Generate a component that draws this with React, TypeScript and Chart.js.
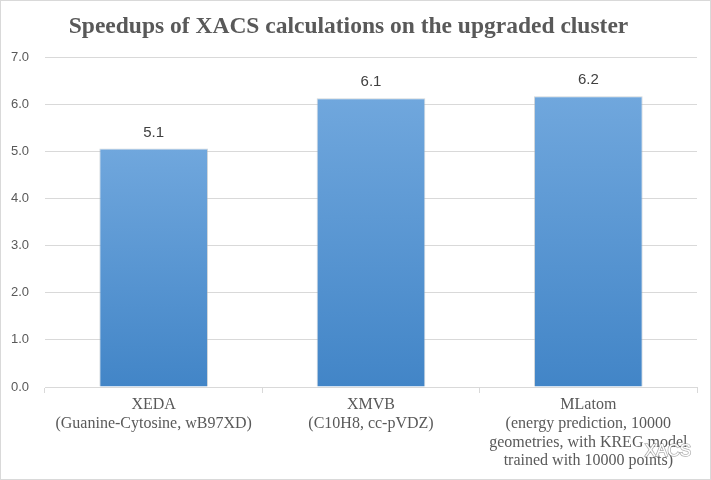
import React, { useEffect, useRef } from "react";
import { Chart, registerables } from "chart.js";

Chart.register(...registerables);

const titleText = "Speedups of XACS calculations on the upgraded cluster";
const categories: string[][] = [
  ["XEDA", "(Guanine-Cytosine, wB97XD)"],
  ["XMVB", "(C10H8, cc-pVDZ)"],
  ["MLatom", "(energy prediction, 10000", "geometries, with KREG model", "trained with 10000 points)"],
];
const speedups: number[] = [5.06, 6.13, 6.17];
const yMin = 0;
const yMax = 7;
const yStep = 1;

const frame = {
  id: "frame",
  beforeDraw(chart: any) {
    const { ctx, width, height } = chart;
    ctx.save();
    ctx.fillStyle = "#ffffff";
    ctx.fillRect(0, 0, width, height);
    ctx.strokeStyle = "#d9d9d9";
    ctx.lineWidth = 1;
    ctx.strokeRect(0.5, 0.5, width - 1, height - 1);
    ctx.restore();
  },
};

const valueLabels = {
  id: "valueLabels",
  afterDatasetsDraw(chart: any) {
    const { ctx } = chart;
    const meta = chart.getDatasetMeta(0);
    ctx.save();
    ctx.font = "15px 'Liberation Sans', Arial, sans-serif";
    ctx.fillStyle = "#404040";
    ctx.textAlign = "center";
    ctx.textBaseline = "middle";
    meta.data.forEach((el: any, i: number) => {
      ctx.fillText(speedups[i].toFixed(1), el.x, el.y - 16);
    });
    ctx.restore();
  },
  afterDraw(chart: any) {
    const { ctx, width, height } = chart;
    ctx.save();
    ctx.font = "17px 'Liberation Sans', Arial, sans-serif";
    ctx.textAlign = "right";
    ctx.textBaseline = "middle";
    ctx.lineWidth = 1.5;
    ctx.strokeStyle = "rgba(120,120,120,0.6)";
    ctx.strokeText("XACS", width - 20, height - 29);
    ctx.fillStyle = "#ffffff";
    ctx.fillText("XACS", width - 20, height - 29);
    ctx.restore();
  },
};

export default function App() {
  const ref = useRef<HTMLCanvasElement | null>(null);

  useEffect(() => {
    if (!ref.current) return;
    const chart = new Chart(ref.current, {
      type: "bar",
      data: {
        labels: categories,
        datasets: [
          {
            data: speedups,
            backgroundColor: (c: any) => {
              const ch = c.chart;
              const ys = ch.scales?.y;
              if (!ch.chartArea || !ys || c.raw == null) return "#5b9bd5";
              const top = ys.getPixelForValue(c.raw);
              const bot = ys.getPixelForValue(0);
              const g = ch.ctx.createLinearGradient(0, top, 0, bot);
              g.addColorStop(0, "#70a7dd");
              g.addColorStop(1, "#4285c7");
              return g;
            },
            borderColor: "rgba(170,180,190,0.55)",
            borderWidth: 1,
            borderSkipped: "bottom",
            barPercentage: 0.5,
            categoryPercentage: 1,
          },
        ],
      },
      options: {
        animation: false,
        responsive: false,
        maintainAspectRatio: false,
        layout: { padding: { left: 0, right: 14, top: 0, bottom: 0 } },
        plugins: {
          legend: { display: false },
          tooltip: { enabled: false },
          title: {
            display: true,
            text: titleText,
            color: "#595959",
            font: { family: "'Liberation Serif', 'Times New Roman', serif", size: 23.5, weight: "bold", lineHeight: 1.2 },
            padding: { top: 13, bottom: 16 },
          },
        },
        scales: {
          x: {
            grid: {
              offset: true,
              drawOnChartArea: false,
              drawTicks: true,
              tickLength: 6,
              color: "#d9d9d9",
            },
            border: { display: true, color: "#d9d9d9" },
            ticks: {
              color: "#595959",
              padding: 3,
              maxRotation: 0,
              autoSkip: false,
              font: { family: "'Liberation Serif', 'Times New Roman', serif", size: 16, lineHeight: 1.16 },
            },
            afterFit: (s: any) => {
              s.height = 93;
            },
          },
          y: {
            min: yMin,
            max: yMax,
            grid: { color: "#d9d9d9", drawTicks: false },
            border: { display: false },
            ticks: {
              stepSize: yStep,
              color: "#595959",
              padding: 16,
              font: { family: "'Liberation Sans', Arial, sans-serif", size: 13 },
              callback: (v: any) => Number(v).toFixed(1),
            },
            afterFit: (s: any) => {
              s.width = 45;
            },
          },
        },
      },
      plugins: [frame, valueLabels],
    });
    return () => chart.destroy();
  }, []);

  return (
    <div style={{ position: "fixed", left: 0, top: 0, width: 711, height: 480 }}>
      <canvas ref={ref} width={711} height={480} style={{ width: 711, height: 480, display: "block" }} />
    </div>
  );
}
